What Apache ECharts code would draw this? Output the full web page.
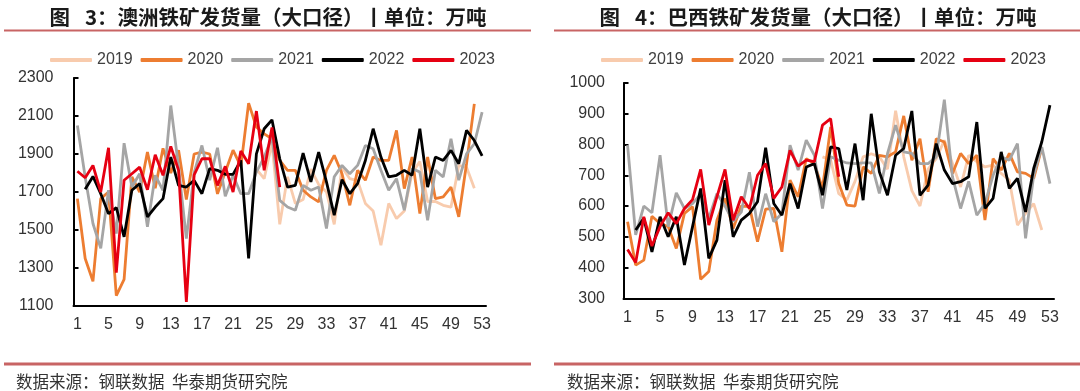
<!DOCTYPE html>
<html>
<head>
<meta charset="utf-8">
<script src="https://cdn.jsdelivr.net/npm/echarts@6/dist/echarts.min.js"></script>
<style>
html,body{margin:0;padding:0;background:#fff;}
#c{width:1080px;height:391px;}
</style>
</head>
<body>
<div id="c"></div>
<script>
// ---- categories & tick labels ----
var weeks = [];
for (var i = 1; i <= 53; i++) weeks.push(String(i));
var auTicks = [1100, 1300, 1500, 1700, 1900, 2100, 2300];
var brTicks = [300, 400, 500, 600, 700, 800, 900, 1000];
var years = ['2019', '2020', '2021', '2022', '2023'];

// ---- Australia (万吨) ----
var au2019 = [null,null,null,null,null,null,null,null,null,null,null,null,null,null,null,null,null,null,null,null,null,null,null,
  1820,1770,1960,1530,1780,1640,1660,1820,1740,1700,1530,1830,1770,1760,1640,1600,1420,1640,1560,1600,1800,1860,1650,1650,1630,1620,1840,1830,1720,null];
var au2020 = [1665,1350,1230,1665,1700,1155,1240,1780,1700,1910,1720,1930,1800,1920,1660,1900,1910,1900,1690,1805,1920,1835,2168,2042,2006,1980,1866,1814,1814,1709,1674,1648,1814,1893,1796,1630,1814,1762,1884,1866,1866,2024,1718,1884,1586,1884,1665,1674,1726,1569,1849,2164,null];
var au2021 = [2050,1779,1534,1403,1709,1481,1957,1726,1796,1517,1788,1709,2155,1831,1455,1800,1945,1762,1933,1677,1788,1691,1691,1805,1884,1989,1656,1621,1604,1735,1709,1726,1508,1780,1840,1796,1840,1945,1928,1814,1709,1770,1604,1823,1805,1551,1814,1779,1980,1762,1901,1954,2120];
var au2022 = [null,1714,1782,1691,1586,1618,1464,1709,1744,1569,1621,1665,1884,1735,1726,1761,1691,1823,1814,1793,1793,1866,1350,1901,2033,2080,1875,1726,1735,1905,1753,1910,1753,1578,1765,1691,1744,1866,2033,1884,1779,1788,1814,1788,2033,1726,1884,1866,1919,1849,2024,1971,1890];
var au2023 = [1809,1775,1840,1700,1933,1275,1762,1796,1831,1712,1896,1788,1940,1814,1121,1790,1875,1875,1735,1835,1700,1916,1849,2126,1814,2040,1726];

// ---- Brazil (万吨) ----
var br2019 = [null,null,null,null,null,null,null,null,null,null,null,null,null,null,null,null,null,null,null,null,null,null,null,null,
  760,750,640,620,680,760,770,760,720,910,760,650,600,720,754,814,738,662,765,744,727,733,706,684,538,576,608,522,null];
var br2020 = [549,408,424,567,543,533,462,576,598,362,387,554,625,527,600,598,484,590,592,451,684,630,754,738,657,857,673,603,600,727,706,765,760,776,893,749,819,646,819,808,706,771,738,765,554,754,717,771,711,706,690,790,null];
var br2021 = [798,506,600,578,765,533,643,592,608,639,560,640,600,550,580,710,533,640,549,576,798,717,814,765,592,760,749,740,738,740,740,641,770,863,776,771,738,738,760,946,695,592,680,570,608,700,760,749,803,495,700,792,673];
var br2022 = [null,522,560,451,565,500,565,408,533,657,430,489,684,500,554,576,614,790,608,570,673,592,727,738,635,792,787,652,803,619,900,711,635,765,787,909,635,668,803,717,673,679,695,873,592,625,776,657,690,581,722,809,928];
var br2023 = [459,416,565,470,533,578,543,592,621,719,538,630,719,554,630,592,700,738,625,662,781,730,749,744,863,884,695];

var colors = ['#F8CBAD', '#ED7D31', '#A5A5A5', '#000000', '#E60012'];
var NUM = '"Liberation Sans", Arial, sans-serif';
var CJK = '"Noto Sans CJK SC", sans-serif';

var chart = echarts.init(document.getElementById('c'), null, {renderer: 'canvas'});

function xAx(gi) {
  return {
    type: 'category', gridIndex: gi, data: weeks, boundaryGap: true,
    axisLine: {lineStyle: {color: '#000', width: 2}},
    axisTick: {inside: true, length: 5, interval: 3, lineStyle: {color: '#000', width: 2}},
    axisLabel: {interval: 3, fontSize: 16, color: '#333', fontFamily: NUM, margin: 11},
    splitLine: {show: false}
  };
}
function yAx(gi, ticks, margin) {
  return {
    type: 'value', gridIndex: gi, min: ticks[0], max: ticks[ticks.length - 1],
    axisLine: {show: true, lineStyle: {color: '#000', width: 2}},
    axisTick: {show: true, inside: true, length: 5, customValues: ticks, lineStyle: {color: '#000', width: 2}},
    axisLabel: {fontSize: 16, color: '#333', fontFamily: NUM, margin: margin, customValues: ticks,
      formatter: function (v) { return String(v); }},
    splitLine: {show: false}
  };
}
function ser(name, data, idx, xi) {
  return {
    name: name, type: 'line', xAxisIndex: xi, yAxisIndex: xi, data: data,
    symbol: 'none', showSymbol: false, connectNulls: false,
    lineStyle: {color: colors[idx], width: 2.8},
    itemStyle: {color: colors[idx]}, z: 2 + idx, animation: false
  };
}
function legend(left) {
  return {
    data: years, left: left, top: 52, padding: 0, itemWidth: 42, itemHeight: 4, itemGap: 8,
    icon: 'roundRect',
    textStyle: {fontSize: 16, color: '#404040', fontFamily: NUM}
  };
}

var auSets = [au2019, au2020, au2021, au2022, au2023];
var brSets = [br2019, br2020, br2021, br2022, br2023];
var series = [];
years.forEach(function (y, i) { series.push(ser(y, auSets[i], i, 0)); });
years.forEach(function (y, i) { series.push(ser(y, brSets[i], i, 1)); });

var divider = '#C86464';
var srcText = '数据来源：钢联数据  华泰期货研究院';
chart.setOption({
  animation: false,
  backgroundColor: '#fff',
  legend: [legend(50), legend(601)],
  grid: [
    {left: 73.5, top: 78, width: 412.5, height: 228, containLabel: false},
    {left: 623.5, top: 83, width: 430.5, height: 215.3, containLabel: false}
  ],
  xAxis: [xAx(0), xAx(1)],
  yAxis: [yAx(0, auTicks, 20), yAx(1, brTicks, 18.5)],
  series: series,
  graphic: [
    {type: 'text', x: 268, y: 17, style: {text: '图\u2002 3：澳洲铁矿发货量（大口径）丨单位：万吨', font: 'bold 20.5px ' + CJK, fill: '#1a1a1a', textAlign: 'center', textVerticalAlign: 'middle'}},
    {type: 'text', x: 818, y: 17, style: {text: '图\u2002 4：巴西铁矿发货量（大口径）丨单位：万吨', font: 'bold 20.5px ' + CJK, fill: '#1a1a1a', textAlign: 'center', textVerticalAlign: 'middle'}},
    {type: 'line', shape: {x1: 4, y1: 30.5, x2: 531, y2: 30.5}, style: {stroke: divider, lineWidth: 2}},
    {type: 'line', shape: {x1: 554, y1: 30.5, x2: 1080, y2: 30.5}, style: {stroke: divider, lineWidth: 2}},
    {type: 'line', shape: {x1: 4, y1: 364, x2: 531, y2: 364}, style: {stroke: divider, lineWidth: 3}},
    {type: 'line', shape: {x1: 554, y1: 364, x2: 1080, y2: 364}, style: {stroke: divider, lineWidth: 3}},
    {type: 'text', x: 16, y: 382, style: {text: srcText, font: '16.5px ' + CJK, fill: '#333', textVerticalAlign: 'middle'}},
    {type: 'text', x: 567, y: 382, style: {text: srcText, font: '16.5px ' + CJK, fill: '#333', textVerticalAlign: 'middle'}}
  ]
});
</script>
</body>
</html>
